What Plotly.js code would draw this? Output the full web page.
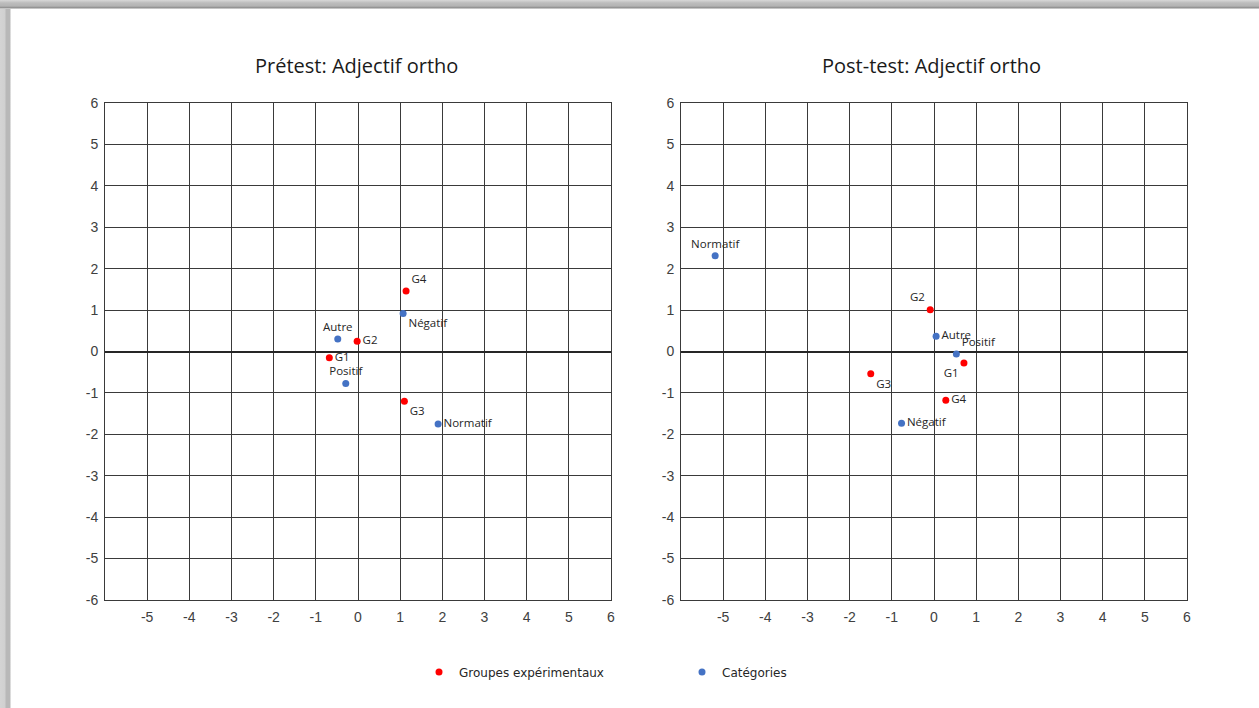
<!DOCTYPE html>
<html>
<head>
<meta charset="utf-8">
<script src="https://cdn.plot.ly/plotly-3.0.1.min.js"></script>
<style>
html,body{margin:0;padding:0;background:#fff;}
#wrap{position:relative;width:1259px;height:708px;overflow:hidden;
background:
 linear-gradient(to bottom,#d8d8d8 0,#bcbcbc 3px,#b4b4b4 6px,#8a8a8a 8px,#ffffff 9px) top left/100% 9px no-repeat,
 linear-gradient(to right,#d4d4d4 0,#d0d0d0 5px,#b8b8b8 6px,#b8b8b8 10px,#ffffff 11px) top left/11px 100% no-repeat,
 #ffffff;}
#chart{position:absolute;left:0;top:0;width:1259px;height:708px;}
</style>
</head>
<body>
<div id="wrap"><div id="chart"></div></div>
<script>
// Prétest
const preGroupNames = ['G1','G2','G3','G4'];
const preGroupX = [-0.68, -0.02, 1.10, 1.14];
const preGroupY = [-0.15, 0.25, -1.20, 1.46];
const preCatNames = ['Autre','Positif','Négatif','Normatif'];
const preCatX = [-0.48, -0.29, 1.07, 1.90];
const preCatY = [0.30, -0.77, 0.92, -1.75];
// Post-test
const postGroupNames = ['G1','G2','G3','G4'];
const postGroupX = [0.71, -0.09, -1.50, 0.28];
const postGroupY = [-0.28, 1.01, -0.54, -1.18];
const postCatNames = ['Autre','Positif','Négatif','Normatif'];
const postCatX = [0.05, 0.53, -0.77, -5.19];
const postCatY = [0.37, -0.06, -1.73, 2.31];

const titles = ['Prétest: Adjectif ortho','Post-test: Adjectif ortho'];
const xTickVals = [-5,-4,-3,-2,-1,0,1,2,3,4,5,6];
const yTickVals = [-6,-5,-4,-3,-2,-1,0,1,2,3,4,5,6];
const legendNames = ['Groupes expérimentaux','Catégories'];

const RED = '#FF0000', BLUE = '#4472C4';
const labelFont = {family:'Open Sans, DejaVu Sans, sans-serif', size:11.5, color:'#262626'};

const traces = [
  {x:preGroupX, y:preGroupY, text:preGroupNames, mode:'markers+text', type:'scatter',
   name:legendNames[0], legendgroup:'g', xaxis:'x', yaxis:'y',
   marker:{color:RED, size:7}, textfont:labelFont, cliponaxis:false,
   textposition:['middle right','middle right','bottom right','top right']},
  {x:preCatX, y:preCatY, text:preCatNames, mode:'markers+text', type:'scatter',
   name:legendNames[1], legendgroup:'c', xaxis:'x', yaxis:'y',
   marker:{color:BLUE, size:7}, textfont:labelFont, cliponaxis:false,
   textposition:['top center','top center','bottom right','middle right']},
  {x:postGroupX, y:postGroupY, text:postGroupNames, mode:'markers+text', type:'scatter',
   name:legendNames[0], legendgroup:'g', showlegend:false, xaxis:'x2', yaxis:'y2',
   marker:{color:RED, size:7}, textfont:labelFont, cliponaxis:false,
   textposition:['bottom left','top left','bottom right','middle right']},
  {x:postCatX, y:postCatY, text:postCatNames, mode:'markers+text', type:'scatter',
   name:legendNames[1], legendgroup:'c', showlegend:false, xaxis:'x2', yaxis:'y2',
   marker:{color:BLUE, size:7}, textfont:labelFont, cliponaxis:false,
   textposition:['middle right','top right','middle right','top center']}
];

const tickFont = {family:'Liberation Sans, Arial, sans-serif', size:14, color:'#404040'};
function xax(domain, anchor){
  return {domain:domain, anchor:anchor, range:[-6,6], tickvals:xTickVals, ticktext:xTickVals.map(String),
    showgrid:true, gridcolor:'#3a3a3a', gridwidth:1, zeroline:false,
    showline:true, mirror:true, linecolor:'#3a3a3a', linewidth:1,
    ticks:'', ticklabelstandoff:4, tickfont:tickFont, fixedrange:true};
}
function yax(domain, anchor){
  return {domain:domain, anchor:anchor, range:[-6,6], tickvals:yTickVals, ticktext:yTickVals.map(String),
    showgrid:true, gridcolor:'#3a3a3a', gridwidth:1,
    zeroline:true, zerolinecolor:'#262626', zerolinewidth:2,
    showline:true, mirror:true, linecolor:'#3a3a3a', linewidth:1,
    ticks:'', ticklabelstandoff:3, tickfont:tickFont, fixedrange:true};
}
const W = 1259, H = 708;
const yDom = [1-600/H, 1-103/H];
const layout = {
  width:W, height:H, margin:{l:0,r:0,t:0,b:0},
  paper_bgcolor:'rgba(0,0,0,0)', plot_bgcolor:'#ffffff',
  showlegend:true,
  xaxis: xax([105/W, 611/W], 'y'),
  yaxis: yax(yDom, 'x'),
  xaxis2: xax([681/W, 1187/W], 'y2'),
  yaxis2: yax(yDom, 'x2'),
  legend:{orientation:'h', x:419/W, xanchor:'left', y:1-672/H, yanchor:'middle',
    font:{family:'DejaVu Sans, sans-serif', size:12, color:'#262626'},
    entrywidth:218, entrywidthmode:'pixels', bgcolor:'rgba(0,0,0,0)'},
  annotations:[
    {text:titles[0], xref:'paper', yref:'paper', x:356/W, y:1-65/H, xanchor:'center', yanchor:'middle',
     showarrow:false, font:{family:'Open Sans, sans-serif', size:20, color:'#1a1a1a'}},
    {text:titles[1], xref:'paper', yref:'paper', x:931/W, y:1-65/H, xanchor:'center', yanchor:'middle',
     showarrow:false, font:{family:'Open Sans, sans-serif', size:20, color:'#1a1a1a'}}
  ]
};
Plotly.newPlot('chart', traces, layout, {displayModeBar:false, staticPlot:true});
</script>
</body>
</html>
